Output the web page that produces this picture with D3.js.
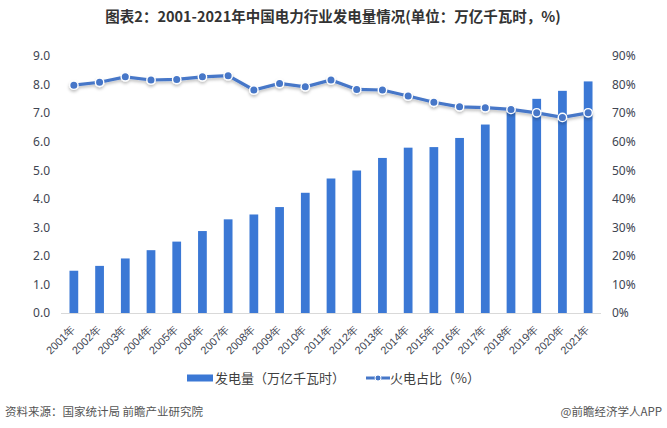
<!DOCTYPE html>
<html><head><meta charset="utf-8">
<script src="https://cdn.jsdelivr.net/npm/d3@7/dist/d3.min.js"></script>
<style>body{margin:0;background:#fff}svg{display:block;font-family:"Noto Sans CJK SC","Noto Sans",sans-serif}</style>
</head><body>
<svg id="c" width="667" height="428"></svg>
<script>
const years = ["2001年","2002年","2003年","2004年","2005年","2006年","2007年","2008年","2009年","2010年","2011年","2012年","2013年","2014年","2015年","2016年","2017年","2018年","2019年","2020年","2021年"];
const generation = [1.48,1.65,1.91,2.20,2.50,2.87,3.28,3.45,3.71,4.21,4.71,4.99,5.43,5.79,5.81,6.13,6.60,7.11,7.50,7.78,8.11];
const thermalShare = [79.8,80.8,82.7,81.6,81.8,82.7,83.1,78.1,80.4,79.2,81.6,78.3,78.1,76.0,73.8,72.2,71.9,71.3,70.1,68.5,70.1];
const leftTicks = [0,1,2,3,4,5,6,7,8,9];
const rightTicks = [0,10,20,30,40,50,60,70,80,90];

const svg = d3.select("#c");
const barColor = "#3b78d5", lineColor = "#4677c8", txt = "#404552";
const x = d3.scaleBand().domain(years).range([61,601]).paddingInner(0.66).paddingOuter(0.33);
const yL = d3.scaleLinear().domain([0,9]).range([313,56]);
const yR = d3.scaleLinear().domain([0,90]).range([313,56]);

svg.append("text").attr("x",333).attr("y",22).attr("text-anchor","middle")
  .attr("font-size",14.5).attr("font-weight","bold").attr("fill","#333").text("图表2：2001-2021年中国电力行业发电量情况(单位：万亿千瓦时，%)");

// left axis
const gl = svg.append("g").attr("transform","translate(50,0)")
  .call(d3.axisLeft(yL).tickValues(leftTicks).tickFormat(d3.format(".1f")).tickSize(0).tickPadding(0));
gl.select(".domain").remove();
gl.selectAll("text").attr("font-size",12).attr("fill",txt).attr("font-family","Noto Sans, sans-serif");
// right axis
const gr = svg.append("g").attr("transform","translate(612,0)")
  .call(d3.axisRight(yR).tickValues(rightTicks).tickFormat(d=>d+"%").tickSize(0).tickPadding(0));
gr.select(".domain").remove();
gr.selectAll("text").attr("font-size",12).attr("fill",txt).attr("font-family","Noto Sans, sans-serif");

// baseline
svg.append("line").attr("x1",61).attr("x2",601).attr("y1",313.5).attr("y2",313.5).attr("stroke","#d9d9d9");

// bars
svg.append("g").selectAll("rect").data(generation).join("rect")
  .attr("x",(d,i)=>x(years[i])).attr("width",x.bandwidth())
  .attr("y",d=>yL(d)).attr("height",d=>yL(0)-yL(d)).attr("fill",barColor);

// x axis labels
const gx = svg.append("g").attr("transform","translate(0,313)")
  .call(d3.axisBottom(x).tickSize(0).tickPadding(0));
gx.select(".domain").remove();
gx.selectAll("text").attr("font-size",11).attr("fill",txt)
  .attr("text-anchor","end").attr("dy",0)
  .attr("transform","translate(2,17) rotate(-45)");

// line with shadow
const defs = svg.append("defs");
const f = defs.append("filter").attr("id","sh").attr("x","-10%").attr("y","-50%").attr("width","120%").attr("height","200%");
f.append("feDropShadow").attr("dx",0).attr("dy",2).attr("stdDeviation",1.5).attr("flood-color","#000").attr("flood-opacity",0.25);
const cx = (d,i)=>x(years[i])+x.bandwidth()/2;
const line = d3.line().x(cx).y(d=>yR(d));
const lg = svg.append("g").attr("filter","url(#sh)");
lg.append("path").datum(thermalShare).attr("d",line).attr("fill","none").attr("stroke",lineColor).attr("stroke-width",3.2);
lg.selectAll("circle").data(thermalShare).join("circle")
  .attr("cx",cx).attr("cy",d=>yR(d)).attr("r",4.2).attr("fill",lineColor).attr("stroke","#fff").attr("stroke-width",1.4);

// legend
const lgY = 378;
svg.append("rect").attr("x",187).attr("y",lgY-3.5).attr("width",26).attr("height",7).attr("fill",barColor);
svg.append("text").attr("x",215).attr("y",lgY+5).attr("font-size",13).attr("fill","#404040").text("发电量（万亿千瓦时）");
svg.append("line").attr("x1",366).attr("x2",390).attr("y1",lgY).attr("y2",lgY).attr("stroke",lineColor).attr("stroke-width",3);
svg.append("circle").attr("cx",378).attr("cy",lgY).attr("r",3).attr("fill",lineColor).attr("stroke","#fff").attr("stroke-width",1);
svg.append("text").attr("x",390).attr("y",lgY+5).attr("font-size",13).attr("fill","#404040").text("火电占比（%）");

// footer
svg.append("text").attr("x",5).attr("y",416).attr("font-size",11.5).attr("fill","#555").text("资料来源：国家统计局 前瞻产业研究院");
svg.append("text").attr("x",662).attr("y",416).attr("text-anchor","end").attr("font-size",11.5).attr("fill","#555").text("@前瞻经济学人APP");
</script>
</body></html>
